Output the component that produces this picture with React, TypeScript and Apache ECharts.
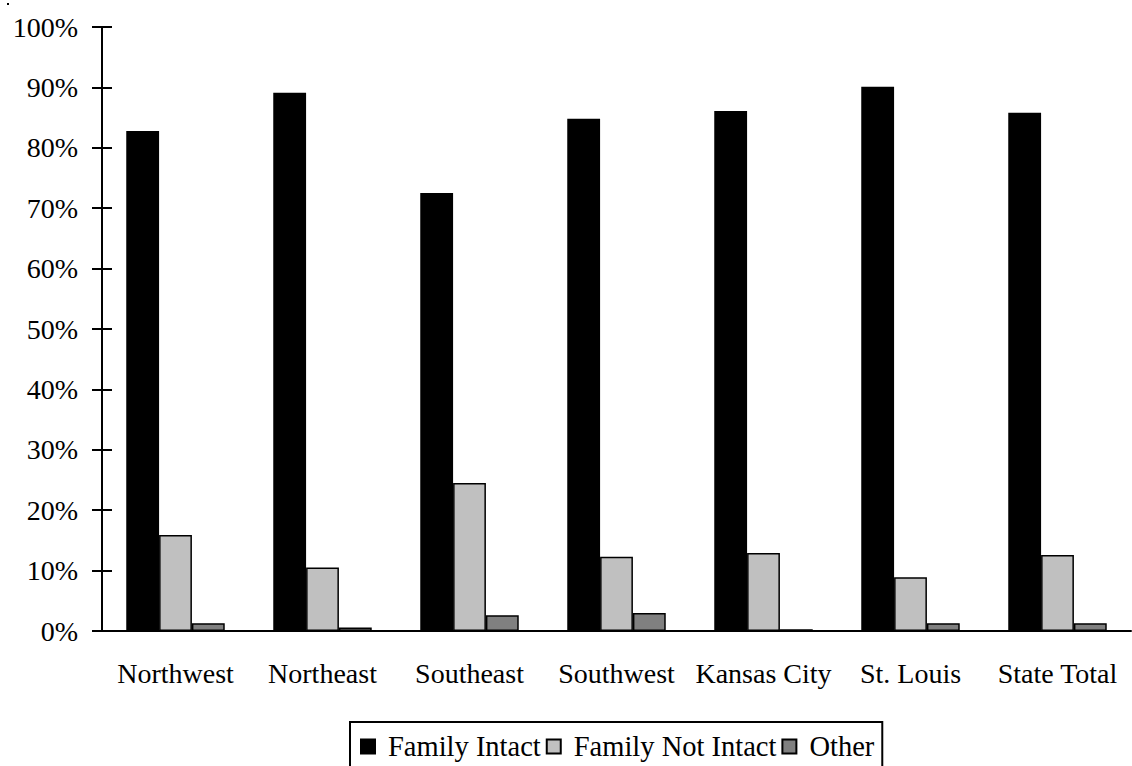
import React, { useEffect, useRef } from "react";
import * as echarts from "echarts";

const categories = ["Northwest", "Northeast", "Southeast", "Southwest", "Kansas City", "St. Louis", "State Total"];
const seriesNames = ["Family Intact", "Family Not Intact", "Other"];
const familyIntact = [82.8, 89.1, 72.5, 84.8, 86.1, 90.1, 85.8];
const familyNotIntact = [15.9, 10.5, 24.5, 12.3, 12.9, 8.9, 12.6];
const other = [1.3, 0.6, 2.6, 3.0, 0.3, 1.3, 1.3];
const seriesColors = ["#000000", "#C0C0C0", "#808080"];

const FONT = "'Liberation Serif', 'Times New Roman', serif";

export default function App() {
  const ref = useRef<HTMLDivElement>(null);
  useEffect(() => {
    if (!ref.current) return;
    const chart = echarts.init(ref.current, null, { renderer: "svg" });
    const values = [familyIntact, familyNotIntact, other];
    chart.setOption({
      animation: false,
      backgroundColor: "#ffffff",
      grid: { left: 102, right: 1, top: 27, bottom: 135, outerBoundsMode: "none" },
      legend: {
        data: seriesNames,
        top: 722,
        left: 350,
        icon: "rect",
        itemWidth: 14,
        itemHeight: 14,
        itemGap: 5,
        borderColor: "#000",
        borderWidth: 2,
        padding: [10, 8, 30, 10],
        textStyle: { fontFamily: FONT, fontSize: 28.5, color: "#000", padding: [0, 0, 0, 8] },
      },
      graphic: [{ type: "rect", shape: { x: 7, y: 3, width: 2, height: 2 }, style: { fill: "#000" } }],
      xAxis: {
        type: "category",
        data: categories,
        axisTick: { show: false },
        axisLine: { lineStyle: { color: "#000", width: 2 } },
        axisLabel: { interval: 0, fontFamily: FONT, fontSize: 28, color: "#000", margin: 28 },
      },
      yAxis: [
        {
          type: "value",
          min: 0,
          max: 100,
          interval: 10,
          axisLine: { show: true, lineStyle: { color: "#000", width: 2 } },
          axisTick: { show: true, length: 10, lineStyle: { color: "#000", width: 2 } },
          splitLine: { show: false },
          axisLabel: { fontFamily: FONT, fontSize: 28, color: "#000", margin: 24, formatter: "{value}%" },
        },
        {
          type: "value",
          position: "left",
          min: 0,
          max: 100,
          interval: 10,
          axisLine: { show: false },
          axisTick: { show: true, inside: true, length: 10, lineStyle: { color: "#000", width: 2 } },
          splitLine: { show: false },
          axisLabel: { show: false },
        },
      ],
      series: seriesNames.map((name, i) => ({
        name,
        type: "bar",
        yAxisIndex: 0,
        data: values[i],
        barGap: "0%",
        barCategoryGap: "33%",
        itemStyle: { color: seriesColors[i], borderColor: "#000", borderWidth: 1.5 },
      })),
    });
    return () => chart.dispose();
  }, []);
  return (
    <div
      ref={ref}
      style={{ position: "fixed", left: 0, top: 0, width: 1132, height: 766, background: "#fff" }}
    />
  );
}
